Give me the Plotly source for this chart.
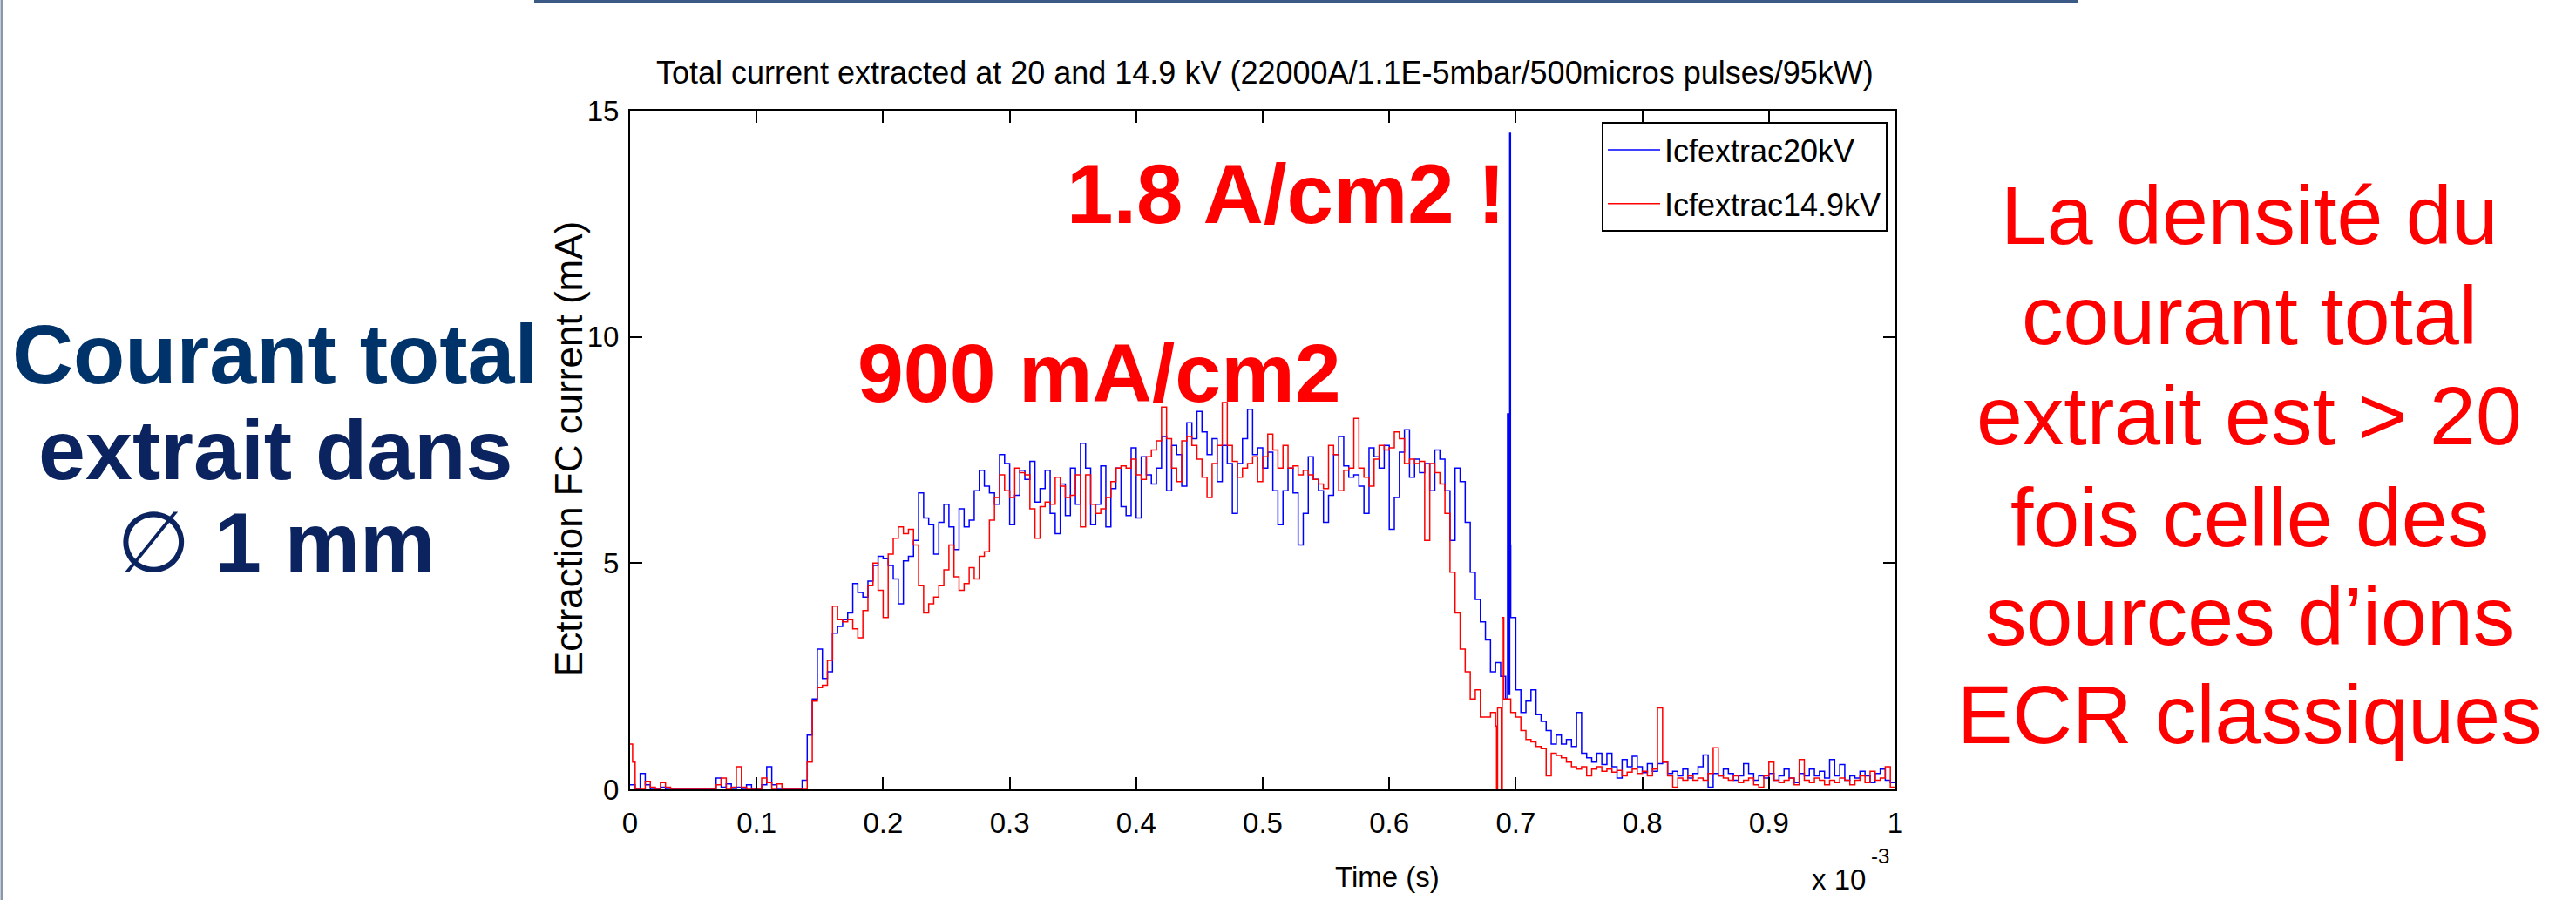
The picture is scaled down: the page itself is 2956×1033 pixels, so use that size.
import plotly.graph_objects as go

# ---------------- data (time in units of 1e-3 s, current in mA) ----------------
t_step = 0.004  # sampling step of the main lists below (0 ... 1)

i_20kV = [
    0.1, 0.0, 0.35, 0.1, 0.0, 0.0, 0.05, 0.0, 0.0, 0.0,
    0.0, 0.0, 0.0, 0.0, 0.0, 0.0, 0.0, 0.25, 0.05, 0.12,
    0.0, 0.05, 0.0, 0.1, 0.0, 0.0, 0.1, 0.5, 0.1, 0.0,
    0.0, 0.0, 0.0, 0.0, 0.2, 1.2, 2.0, 3.1, 2.45, 2.6,
    3.45, 3.6, 3.75, 3.9, 4.55, 4.35, 4.25, 4.6, 4.95, 5.15,
    5.1, 4.95, 4.65, 4.1, 5.05, 5.15, 5.5, 6.55, 6.0, 5.85,
    5.2, 5.9, 6.3, 5.8, 5.3, 6.2, 5.8, 5.95, 6.6, 7.05,
    6.7, 6.55, 6.3, 7.4, 7.2, 5.85, 6.5, 7.05, 6.85, 7.25,
    6.35, 6.65, 7.05, 6.1, 5.65, 6.75, 6.05, 7.1, 6.3, 7.65,
    7.1, 5.85, 6.3, 7.15, 5.8, 6.65, 7.1, 6.25, 6.05, 7.55,
    6.0, 7.35, 6.95, 6.75, 7.1, 7.8, 6.6, 7.6, 7.4, 6.7,
    8.1, 7.75, 8.35, 7.9, 7.4, 7.75, 6.8, 7.6, 7.2, 6.1,
    7.2, 7.75, 8.4, 7.4, 7.55, 7.1, 7.45, 6.6, 5.85, 6.6,
    7.1, 6.55, 5.4, 6.1, 7.35, 6.85, 6.6, 5.9, 6.5, 7.4,
    7.8, 7.15, 6.9, 6.95, 6.7, 6.1, 7.55, 7.35, 7.1, 7.6,
    5.75, 6.45, 7.45, 7.95, 6.9, 7.3, 7.0, 7.2, 6.6, 7.5,
    7.3, 6.6, 5.5, 7.1, 6.8, 5.9, 4.8, 4.2, 3.7, 3.3,
    2.6, 2.8, 2.5, 2.0, 3.8, 2.2, 1.7, 1.95, 2.2, 1.65,
    1.5, 1.3, 1.0, 1.2, 1.0, 1.1, 0.95, 1.7, 0.8, 0.7,
    0.6, 0.8, 0.55, 0.8, 0.5, 0.25, 0.66, 0.5, 0.73, 0.5,
    0.37, 0.57, 0.4, 0.57, 0.6, 0.35, 0.4, 0.3, 0.45, 0.25,
    0.35, 0.5, 0.76, 0.05, 0.35, 0.3, 0.45, 0.35, 0.2, 0.3,
    0.57, 0.35, 0.2, 0.3, 0.25, 0.35, 0.2, 0.3, 0.45, 0.25,
    0.15, 0.35, 0.3, 0.45, 0.3, 0.4, 0.25, 0.66, 0.3, 0.55,
    0.2, 0.3, 0.25, 0.4, 0.3, 0.15, 0.35, 0.45, 0.2, 0.15,
    0.1,
]

i_14p9kV = [
    1.0, 0.0, 0.0, 0.18, 0.05, 0.0, 0.15, 0.05, 0.0, 0.0,
    0.0, 0.0, 0.0, 0.0, 0.0, 0.0, 0.0, 0.1, 0.25, 0.0,
    0.05, 0.5, 0.05, 0.0, 0.0, 0.0, 0.25, 0.15, 0.0, 0.12,
    0.0, 0.0, 0.0, 0.0, 0.0, 0.6, 1.95, 2.25, 2.3, 2.85,
    4.05, 3.75, 3.7, 3.75, 3.55, 3.35, 3.95, 4.5, 5.0, 4.4,
    3.8, 5.2, 5.55, 5.8, 5.65, 5.75, 5.4, 4.5, 3.9, 4.1,
    4.25, 4.5, 4.85, 5.4, 4.7, 4.4, 4.55, 4.9, 4.65, 5.15,
    5.25, 5.95, 6.45, 6.95, 6.6, 6.45, 7.1, 7.0, 6.95, 6.2,
    5.55, 6.25, 6.35, 6.3, 6.9, 6.7, 6.45, 6.5, 6.95, 5.8,
    6.95, 6.3, 6.1, 6.2, 6.45, 6.8, 7.1, 7.15, 7.1, 7.3,
    6.95, 6.85, 7.35, 7.5, 7.7, 8.45, 7.75, 7.1, 6.8, 7.7,
    7.8, 7.6, 7.3, 6.9, 6.45, 7.2, 7.6, 8.55, 7.6, 7.25,
    6.9, 7.1, 7.2, 7.35, 6.8, 7.35, 7.85, 7.5, 7.1, 7.6,
    7.1, 7.15, 6.95, 7.05, 6.95, 6.85, 6.75, 6.65, 7.6, 7.4,
    6.6, 7.05, 7.1, 8.2, 7.1, 6.9, 6.7, 7.3, 7.6, 7.5,
    7.55, 7.9, 7.75, 7.2, 7.3, 7.2, 7.25, 5.5, 7.2, 7.0,
    6.75, 6.1, 4.8, 3.9, 3.1, 2.6, 2.0, 2.2, 1.6, 1.6,
    1.7, 1.4, 1.8, 2.0, 1.7, 1.6, 1.3, 1.1, 1.05, 0.95,
    0.9, 0.3, 0.8, 0.75, 0.7, 0.6, 0.5, 0.45, 0.5, 0.3,
    0.45, 0.5, 0.4, 0.45, 0.38, 0.42, 0.3, 0.38, 0.45, 0.35,
    0.4, 0.3, 0.45, 1.8, 0.6, 0.3, 0.05, 0.25, 0.2, 0.3,
    0.2, 0.25, 0.2, 0.35, 0.92, 0.3, 0.25, 0.2, 0.3, 0.15,
    0.2, 0.25, 0.1, 0.05, 0.3, 0.6, 0.2, 0.15, 0.2, 0.25,
    0.1, 0.66, 0.2, 0.15, 0.25, 0.2, 0.1, 0.2, 0.15, 0.25,
    0.2, 0.1, 0.2, 0.3, 0.15, 0.4, 0.2, 0.25, 0.5, 0.05,
    0.15,
]

# extra finely-timed samples (narrow spikes / dips)
extra_t_20kV = [0.6935, 0.6945, 0.6952, 0.6958]
extra_i_20kV = [8.3, 2.1, 14.5, 5.4]
extra_t_14p9kV = [0.002, 0.6848, 0.6856, 0.6885, 0.6893, 0.6905]
extra_i_14p9kV = [0.6, 0.0, 1.8, 0.0, 3.8, 2.0]

series_names = ["Icfextrac20kV", "Icfextrac14.9kV"]
series_colors = ["#0000FF", "#FF0000"]

x_tick_vals = [0, 0.1, 0.2, 0.3, 0.4, 0.5, 0.6, 0.7, 0.8, 0.9, 1]
x_tick_text = ["0", "0.1", "0.2", "0.3", "0.4", "0.5", "0.6", "0.7", "0.8", "0.9", "1"]
y_tick_vals = [0, 5, 10, 15]
y_tick_text = ["0", "5", "10", "15"]

title_text = "Total current extracted at 20 and 14.9 kV (22000A/1.1E-5mbar/500micros pulses/95kW)"
x_title = "Time (s)"
y_title = "Ectraction FC current (mA)"
left_lines = ["Courant total", "extrait dans",
              "<span style='font-weight:normal'>\u2205</span> 1 mm"]
right_lines = ["La densité du", "courant total", "extrait est &gt; 20",
               "fois celle des", "sources d\u2019ions", "ECR classiques"]


def merge(main, extra_t, extra_v):
    pts = [(round(k * t_step, 4), v) for k, v in enumerate(main)]
    pts += list(zip(extra_t, extra_v))
    pts.sort(key=lambda p: p[0])
    return [p[0] for p in pts], [p[1] for p in pts]


t20, v20 = merge(i_20kV, extra_t_20kV, extra_i_20kV)
t14, v14 = merge(i_14p9kV, extra_t_14p9kV, extra_i_14p9kV)

# ---------------- layout geometry (pixels) ----------------
W, H = 2956, 1033
PL, PR, PT, PB = 723, 2175, 127, 906  # plot area edges


def px(x):
    return (x - PL) / (PR - PL)


def py(y):
    return (PB - y) / (PB - PT)


FONT = "Liberation Sans, Arial, Helvetica, sans-serif"

fig = go.Figure()
for tt, vv, name, col in [(t20, v20, series_names[0], series_colors[0]),
                          (t14, v14, series_names[1], series_colors[1])]:
    fig.add_trace(go.Scatter(x=tt, y=vv, mode="lines", name=name, legendgroup=name,
                             line=dict(color=col, width=1.5, shape="hv")))

axis_common = dict(showgrid=False, zeroline=False, showline=True, linecolor="black",
                   linewidth=2, mirror="ticks", ticks="inside", ticklen=14, tickwidth=2,
                   tickcolor="black", tickfont=dict(family=FONT, size=33, color="black"))

fig.update_xaxes(range=[0, 1], tickvals=x_tick_vals, ticktext=x_tick_text,
                 ticklabelstandoff=8, **axis_common)
fig.update_yaxes(range=[0, 15], tickvals=y_tick_vals, ticktext=y_tick_text,
                 ticklabelstandoff=4, **axis_common)

ann = []
ann.append(dict(text=title_text, x=px(1451), y=py(84), font=dict(size=36, color="black")))
ann.append(dict(text=x_title, x=px(1592), y=py(1006), font=dict(size=33, color="black")))
ann.append(dict(text="x 10", x=px(2110), y=py(1009), font=dict(size=33, color="black")))
ann.append(dict(text="-3", x=px(2157), y=py(982), font=dict(size=24, color="black")))
ann.append(dict(text=y_title, x=px(652), y=py(516), textangle=-90,
                font=dict(size=44, color="black")))
ann.append(dict(text="<b>1.8 A/cm2 !</b>", x=px(1475), y=py(222),
                font=dict(size=96, color="#FF0000")))
ann.append(dict(text="<b>900 mA/cm2</b>", x=px(1261), y=py(428),
                font=dict(size=95, color="#FF0000")))
left_y = [406, 516, 622]
left_col = ["#00336A", "#0B2460", "#0B2460"]
for txt, yy, cc in zip(left_lines, left_y, left_col):
    ann.append(dict(text="<b>" + txt + "</b>", x=px(316), y=py(yy),
                    font=dict(size=97, color=cc)))
right_y = [247, 362, 477, 594, 707, 820]
for txt, yy in zip(right_lines, right_y):
    ann.append(dict(text=txt, x=px(2581), y=py(yy), font=dict(size=95, color="#FF0000")))

for a in ann:
    a.update(xref="paper", yref="paper", showarrow=False, xanchor="center",
             yanchor="middle")
    a["font"]["family"] = FONT

shapes = [
    dict(type="line", xref="paper", yref="paper", x0=px(613), x1=px(2385),
         y0=py(2), y1=py(2), line=dict(color="#3B5A86", width=4)),
    dict(type="line", xref="paper", yref="paper", x0=px(2), x1=px(2),
         y0=py(0), y1=py(H), line=dict(color="#8A96AA", width=3)),
]

fig.update_layout(
    width=W, height=H, autosize=False,
    margin=dict(l=PL, r=W - PR, t=PT, b=H - PB, pad=0),
    paper_bgcolor="white", plot_bgcolor="white",
    font=dict(family=FONT, color="black"),
    showlegend=True,
    legend=dict(x=px(2166), y=py(140), xanchor="right", yanchor="top",
                bgcolor="white", bordercolor="black", borderwidth=2,
                font=dict(family=FONT, size=36, color="black"),
                tracegroupgap=12, itemwidth=60),
    annotations=ann, shapes=shapes,
)

fig.write_html("out.html", config={"displayModeBar": False},
               post_script="document.body.style.margin='0';document.body.style.padding='0';"
                           "document.body.style.overflow='hidden';")
